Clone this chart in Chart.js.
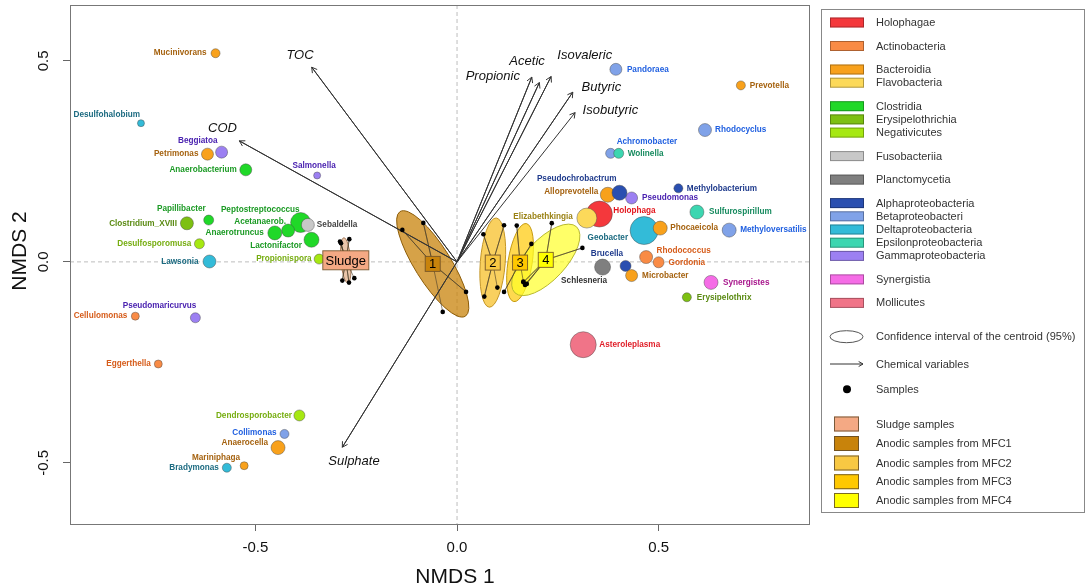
<!DOCTYPE html>
<html>
<head>
<meta charset="utf-8">
<script src="https://cdn.jsdelivr.net/npm/chart.js@4.4.1/dist/chart.umd.min.js"></script>
<style>
  html, body { margin: 0; padding: 0; background: #fff; }
  #wrap { width: 1087px; height: 588px; position: relative; }
</style>
</head>
<body>
<div id="wrap"><canvas id="nmdsChart"></canvas></div>
<script>
// ---- genus scores (NMDS1 / NMDS2) ----
const genera = ['Mucinivorans','Desulfohalobium','Beggiatoa','Petrimonas','Anaerobacterium','Salmonella',
  'Papillibacter','Clostridium_XVIII','Peptostreptococcus','Sebaldella','Acetanaerob.','Anaerotruncus',
  'Lactonifactor','Desulfosporomusa','Lawsonia','Propionispora','Pseudomaricurvus','Cellulomonas',
  'Eggerthella','Dendrosporobacter','Collimonas','Anaerocella','Mariniphaga','Bradymonas',
  'Pandoraea','Prevotella','Rhodocyclus','Achromobacter','Wolinella','Alloprevotella','Pseudomonas',
  'Pseudochrobactrum','Methylobacterium','Holophaga','Elizabethkingia','Sulfurospirillum','Geobacter',
  'Phocaeicola','Methyloversatilis','Rhodococcus','Gordonia','Brucella','Microbacter','Schlesneria',
  'Synergistes','Erysipelothrix','Asteroleplasma'];
const nmds1 = [-0.599,-0.784,-0.584,-0.619,-0.524,-0.347,-0.616,-0.670,-0.388,-0.370,-0.419,-0.452,
  -0.361,-0.639,-0.614,-0.342,-0.649,-0.798,-0.741,-0.391,-0.428,-0.444,-0.528,-0.571,
  0.394,0.704,0.615,0.381,0.401,0.374,0.433,0.403,0.549,0.353,0.322,0.595,0.464,
  0.504,0.675,0.469,0.500,0.418,0.433,0.361,0.630,0.570,0.313];
const nmds2 = [0.519,0.345,0.273,0.268,0.229,0.215,0.104,0.096,0.098,0.092,0.078,0.072,
  0.055,0.045,0.001,0.007,-0.139,-0.135,-0.254,-0.382,-0.428,-0.462,-0.507,-0.512,
  0.479,0.439,0.328,0.270,0.270,0.167,0.159,0.172,0.183,0.119,0.109,0.124,0.078,
  0.084,0.079,0.012,-0.001,-0.010,-0.034,-0.013,-0.051,-0.088,-0.206];
// class index of each genus (see classNames)
const generaClass = [2,11,13,2,4,13,4,5,4,7,4,4,4,6,11,6,13,1,1,6,10,2,2,11,
  10,2,10,10,12,2,13,9,9,0,3,12,11,2,10,1,1,9,2,8,14,5,15];

// ---- classes ----
const classNames = ['Holophagae','Actinobacteria','Bacteroidia','Flavobacteria','Clostridia',
  'Erysipelothrichia','Negativicutes','Fusobacteriia','Planctomycetia','Alphaproteobacteria',
  'Betaproteobacteri','Deltaproteobacteria','Epsilonproteobacteria','Gammaproteobacteria',
  'Synergistia','Mollicutes'];

// ---- environmental vectors ----
const envVars = ['TOC','COD','Sulphate','Propionic','Acetic','Isovaleric','Butyric','Isobutyric'];
const envX = [-0.3605,-0.540,-0.2846,0.1854,0.2042,0.2333,0.2871,0.2928];
const envY = [0.4843,0.301,-0.461,0.4595,0.446,0.461,0.4221,0.3714];

// ---- sample groups ----
const groupNames = ['Sludge','1','2','3','4'];
const groupLegend = ['Sludge samples','Anodic samples from MFC1','Anodic samples from MFC2',
  'Anodic samples from MFC3','Anodic samples from MFC4'];
const centroidX = [-0.2759,-0.0603,0.0886,0.1563,0.2201];
const centroidY = [0.004,-0.005,-0.0017,-0.0017,0.005];
const sampleX = [
  [-0.2903,-0.2672,-0.2878,-0.2846,-0.2680,-0.2548],
  [-0.1357,-0.0836,0.0223,-0.0355],
  [0.0653,0.1166,0.0677,0.1000],
  [0.1481,0.1844,0.1166,0.1645],
  [0.2350,0.3109,0.1645,0.1687,0.1730]];
const sampleY = [
  [0.0505,0.0565,0.0465,-0.0465,-0.0515,-0.0405],
  [0.0796,0.0970,-0.0746,-0.1244],
  [0.0689,0.0913,-0.0863,-0.0639],
  [0.0903,0.0448,-0.0746,-0.0490],
  [0.0963,0.0348,-0.0505,-0.0572,-0.0547]];
// 95% confidence ellipses of the centroids (semi-axes in NMDS units, angle in degrees)
const ellipseA = [0.056,0.153,0.111,0.098,0.112];
const ellipseB = [0.0124,0.045,0.031,0.030,0.050];
const ellipseAngle = [95,-58,85.5,81,47];

// ---- axes ----
const tickVals = [-0.5, 0, 0.5];
const xMin = -0.960, xMax = 0.873, yMin = -0.652, yMax = 0.639;

// ---- styles ----
const classFill = ['#f4383c','#f98b45','#f8a11c','#fcd95a','#20d828','#7dc012','#a6e812','#c8c8c8',
  '#7f7f7f','#2a4fb0','#80a2e8','#33bbd8','#3cd6b0','#9c80f2','#f56ce6','#f07488'];
const classText = ['#e3161c','#d65c1a','#a5620f','#9a8214','#1b9a24','#5a8a12','#76ad10','#444444',
  '#333333','#1e3a8c','#1f5fe0','#1b6a80','#168a5e','#4a22b0','#a8168c','#e0202a'];
const legendGap = [0,1,1,0,1,0,0,1,1,1,0,0,0,0,1,1];
const bubbleRadius = [4.5,3.5,6,6,6,3.5,5,6.5,10,6.5,6.5,7,7.5,5,6.5,5,5,4,4,5.5,4.5,7,4,4.5,
  6,4.5,6.5,5,5,7.5,6,7.5,4.5,13,10,7,14,7,7,6.5,5.5,5.5,6,8,7,4.5,13];
// label anchor offset from the point in px [dx, dy, align]
const labelOffset = [[-9,0,'right'],[-1,-8,'right'],[-4,-11,'right'],[-9,0,'right'],[-9,0,'right'],
  [-3,-10,'center'],[-3,-11,'right'],[-10,0,'right'],[-1,-13,'right'],[9,0,'left'],[-2,-8.5,'right'],
  [-11,0,'right'],[-9.5,6,'right'],[-8,0,'right'],[-11,0,'right'],[-7.5,0,'right'],[1,-12,'right'],
  [-8,0,'right'],[-7.5,0,'right'],[-7.5,0,'right'],[-8,-1,'right'],[-10,-5,'right'],[-4,-8,'right'],
  [-8,0,'right'],[11,0,'left'],[9,0,'left'],[10,0,'left'],[6,-12,'left'],[9,0,'left'],
  [-9.5,-3,'right'],[10.5,0,'left'],[-3,-13.5,'right'],[8.5,0,'left'],[14,-3.5,'left'],
  [-14,-1,'right'],[12,0,'left'],[-16,7,'right'],[10,0,'left'],[11,0,'left'],[10.5,-6,'left'],
  [10,0,'left'],[-2.5,-12,'right'],[10.5,0,'left'],[4.5,13.5,'right'],[12,0,'left'],[10,0,'left'],
  [16,0,'left']];
const envLabelOffset = [[-11.7,-12.3],[-16.8,-12.7],[11.7,13.7],[-39,-0.6],[-12.3,-21],
  [33.7,-20.7],[28.6,-5],[35.3,-1.7]];
const groupFill = ['#f4a984','#c8830b','#f8c843','#ffc800','#ffff00'];
const ellipseFill = ['rgba(226,178,140,0.75)','rgba(200,131,11,0.75)','rgba(248,200,67,0.85)',
  'rgba(255,204,20,0.75)','rgba(255,255,40,0.7)'];
const ellipseStroke = ['#a57a5a','#8c5c08','#c39525','#c59a10','#b8b830'];
const FONT = "'Liberation Sans', Arial, sans-serif";

const ctx = document.getElementById('nmdsChart').getContext('2d');

function arrowHead(c, x0, y0, x1, y1, len) {
    const ang = Math.atan2(y1 - y0, x1 - x0);
    c.beginPath();
    c.moveTo(x1 - len * Math.cos(ang - Math.PI / 6), y1 - len * Math.sin(ang - Math.PI / 6));
    c.lineTo(x1, y1);
    c.lineTo(x1 - len * Math.cos(ang + Math.PI / 6), y1 - len * Math.sin(ang + Math.PI / 6));
    c.stroke();
}

const nmdsPlugin = {
    id: 'nmdsExtras',
    beforeDatasetsDraw(chart) {
        const { ctx: c, chartArea: a, scales: { x, y } } = chart;
        c.save();
        c.beginPath();
        c.rect(a.left, a.top, a.right - a.left, a.bottom - a.top);
        c.clip();
        // dashed zero lines
        const x0 = x.getPixelForValue(0), y0 = y.getPixelForValue(0);
        c.setLineDash([4, 3]);
        c.strokeStyle = '#bdbdbd';
        c.lineWidth = 1;
        c.beginPath();
        c.moveTo(x0, a.top); c.lineTo(x0, a.bottom);
        c.moveTo(a.left, y0); c.lineTo(a.right, y0);
        c.stroke();
        c.setLineDash([]);
        // confidence ellipses
        const kx = x.getPixelForValue(1) - x0, ky = y0 - y.getPixelForValue(1);
        groupNames.forEach((g, i) => {
            c.beginPath();
            c.ellipse(x.getPixelForValue(centroidX[i]), y.getPixelForValue(centroidY[i]),
                ellipseA[i] * kx, ellipseB[i] * ky, -ellipseAngle[i] * Math.PI / 180, 0, 2 * Math.PI);
            c.fillStyle = ellipseFill[i];
            c.fill();
            c.strokeStyle = ellipseStroke[i];
            c.lineWidth = 1;
            c.stroke();
        });
        c.restore();
    },
    afterDatasetsDraw(chart) {
        const { ctx: c, scales: { x, y } } = chart;
        const x0 = x.getPixelForValue(0), y0 = y.getPixelForValue(0);
        c.save();
        // arrow heads and labels of chemical variables
        c.strokeStyle = '#333';
        c.lineWidth = 1;
        envVars.forEach((v, i) => {
            const tx = x.getPixelForValue(envX[i]), ty = y.getPixelForValue(envY[i]);
            arrowHead(c, x0, y0, tx, ty, 6);
            c.font = 'italic 13px ' + FONT;
            c.fillStyle = '#111';
            c.textAlign = 'center';
            c.textBaseline = 'middle';
            c.fillText(v, tx + envLabelOffset[i][0], ty + envLabelOffset[i][1]);
        });
        // genus labels
        c.font = 'bold 8.2px ' + FONT;
        c.textBaseline = 'middle';
        genera.forEach((g, i) => {
            const px = x.getPixelForValue(nmds1[i]), py = y.getPixelForValue(nmds2[i]);
            const o = labelOffset[i];
            c.textAlign = o[2];
            c.fillStyle = classText[generaClass[i]];
            c.fillText(g, px + o[0], py + o[1]);
        });
        // centroid boxes
        groupNames.forEach((g, i) => {
            const cx = x.getPixelForValue(centroidX[i]), cy = y.getPixelForValue(centroidY[i]);
            c.font = '13px ' + FONT;
            const w = i === 0 ? 46 : 15, h = i === 0 ? 19 : 15;
            c.fillStyle = groupFill[i];
            c.fillRect(cx - w / 2, cy - h / 2, w, h);
            c.strokeStyle = 'rgba(110,80,40,0.85)';
            c.lineWidth = 1;
            c.strokeRect(cx - w / 2, cy - h / 2, w, h);
            c.fillStyle = '#000';
            c.textAlign = 'center';
            c.textBaseline = 'middle';
            c.fillText(g, cx, cy + 1);
        });
        c.restore();
    },
    afterDraw(chart) {
        const { ctx: c, chartArea: a, scales: { x, y } } = chart;
        c.save();
        // plot frame
        c.strokeStyle = '#777';
        c.lineWidth = 1;
        c.strokeRect(Math.round(a.left) + 0.5, Math.round(a.top) + 0.5,
            Math.round(a.right - a.left), Math.round(a.bottom - a.top));
        // tick labels
        c.fillStyle = '#111';
        c.font = '15px ' + FONT;
        c.textAlign = 'center';
        c.textBaseline = 'middle';
        tickVals.forEach(v => {
            const lab = v === 0 ? '0.0' : v.toFixed(1);
            c.fillText(lab, x.getPixelForValue(v), 548);
            c.save();
            c.translate(44, y.getPixelForValue(v));
            c.rotate(-Math.PI / 2);
            c.fillText(lab, 0, 0);
            c.restore();
        });
        // axis titles
        c.font = '21px ' + FONT;
        c.fillText('NMDS 1', 455, 577);
        c.save();
        c.translate(20, 251);
        c.rotate(-Math.PI / 2);
        c.fillText('NMDS 2', 0, 0);
        c.restore();

        // legend
        c.strokeStyle = '#888';
        c.strokeRect(821.5, 9.5, 263, 503);
        c.font = '11px ' + FONT;
        c.textAlign = 'left';
        c.textBaseline = 'middle';
        let yy = 22.5;
        classNames.forEach((n, i) => {
            if (i > 0) yy += legendGap[i] ? 23.5 : 13.2;
            c.fillStyle = classFill[i];
            c.fillRect(830, yy - 5, 34, 10);
            c.strokeStyle = 'rgba(0,0,0,0.3)';
            c.strokeRect(830.5, yy - 4.5, 33, 9);
            c.fillStyle = '#333';
            c.fillText(n, 876, yy + 0.5);
        });
        // ellipse symbol
        c.strokeStyle = '#555';
        c.beginPath();
        c.ellipse(846.5, 336.7, 16.5, 6, 0, 0, 2 * Math.PI);
        c.stroke();
        c.fillStyle = '#333';
        c.fillText('Confidence interval of the centroid (95%)', 876, 337);
        // arrow symbol
        c.strokeStyle = '#333';
        c.beginPath();
        c.moveTo(830, 364); c.lineTo(863, 364);
        c.stroke();
        arrowHead(c, 830, 364, 863, 364, 5);
        c.fillText('Chemical variables', 876, 364.5);
        // sample symbol
        c.fillStyle = '#000';
        c.beginPath();
        c.arc(847, 389.3, 4, 0, 2 * Math.PI);
        c.fill();
        c.fillStyle = '#333';
        c.fillText('Samples', 876, 389.8);
        // group symbols
        const gy = [424, 443.5, 463, 481.7, 500.5];
        groupLegend.forEach((n, i) => {
            c.fillStyle = groupFill[i];
            c.fillRect(834, gy[i] - 7.5, 25, 15);
            c.strokeStyle = 'rgba(90,70,40,0.8)';
            c.strokeRect(834.5, gy[i] - 7, 24, 14);
            c.fillStyle = '#333';
            c.fillText(n, 876, gy[i] + 0.5);
        });
        c.restore();
    }
};

const spiderSets = groupNames.map((g, gi) => ({
    label: 'spider ' + g,
    data: sampleX[gi].flatMap((sx, k) => [
        { x: centroidX[gi], y: centroidY[gi] },
        { x: sx, y: sampleY[gi][k] }]),
    showLine: true,
    borderColor: 'rgba(70,60,40,0.75)',
    borderWidth: 0.8,
    pointRadius: 0,
    order: 4
}));

const config = {
    type: 'scatter',
    data: {
        datasets: [
            {
                label: 'Genera',
                data: genera.map((g, i) => ({ x: nmds1[i], y: nmds2[i] })),
                pointRadius: bubbleRadius,
                pointHoverRadius: bubbleRadius,
                pointBackgroundColor: generaClass.map(k => classFill[k]),
                pointBorderColor: 'rgba(70,70,70,0.55)',
                pointBorderWidth: 0.8,
                order: 0
            },
            {
                label: 'Samples',
                data: sampleX.flatMap((xs, gi) => xs.map((sx, k) => ({ x: sx, y: sampleY[gi][k] }))),
                pointRadius: 2.3,
                pointBackgroundColor: '#000',
                pointBorderColor: '#000',
                pointBorderWidth: 0,
                order: 1
            },
            {
                label: 'Chemical variables',
                data: envX.flatMap((ex, i) => [{ x: 0, y: 0 }, { x: ex, y: envY[i] }]),
                showLine: true,
                borderColor: '#333',
                borderWidth: 1,
                pointRadius: 0,
                order: 2
            },
            ...spiderSets
        ]
    },
    options: {
        responsive: true,
        maintainAspectRatio: false,
        animation: false,
        events: [],
        layout: { autoPadding: false, padding: { top: 5, right: 278, left: 0, bottom: 0 } },
        plugins: {
            legend: { display: false },
            tooltip: { enabled: false }
        },
        scales: {
            x: {
                type: 'linear',
                min: xMin,
                max: xMax,
                afterBuildTicks: s => { s.ticks = tickVals.map(v => ({ value: v })); },
                afterFit: s => { s.height = 64; },
                ticks: { display: false },
                grid: { display: true, drawOnChartArea: false, drawTicks: true, tickLength: 7, color: '#666' },
                border: { display: true, color: '#777' }
            },
            y: {
                type: 'linear',
                min: yMin,
                max: yMax,
                afterBuildTicks: s => { s.ticks = tickVals.map(v => ({ value: v })); },
                afterFit: s => { s.width = 70; },
                ticks: { display: false },
                grid: { display: true, drawOnChartArea: false, drawTicks: true, tickLength: 7, color: '#666' },
                border: { display: true, color: '#777' }
            }
        }
    },
    plugins: [nmdsPlugin]
};

const nmdsChart = new Chart(ctx, config);
</script>
</body>
</html>
